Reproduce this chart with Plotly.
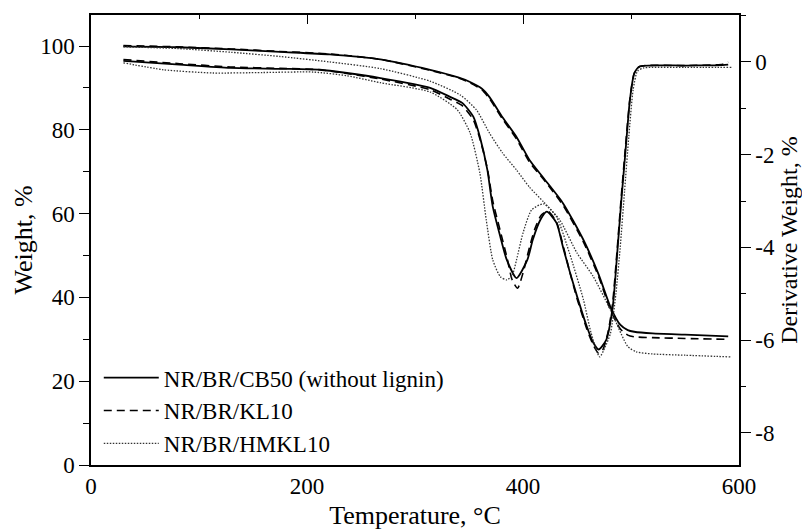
import plotly.graph_objects as go

# ---------------- data ----------------
# TGA curves (left axis, Weight %)
tga_cb50_T = [30, 80, 130, 175, 221, 268, 314, 340, 351, 362, 369, 381, 394, 406, 419, 437, 456, 470, 481, 490, 497, 503, 520, 550, 590]
tga_cb50_W = [99.9, 99.7, 99.2, 98.6, 98.0, 96.8, 94.3, 92.5, 91.4, 89.8, 87.8, 83.0, 78.3, 72.8, 68.5, 62.5, 53.7, 45.5, 37.7, 33.5, 32.2, 31.8, 31.4, 31.1, 30.7]

tga_kl10_T = [30, 80, 130, 175, 221, 268, 314, 340, 351, 362, 369, 381, 394, 406, 419, 437, 456, 470, 481, 490, 497, 503, 520, 550, 590]
tga_kl10_W = [100.1, 99.8, 99.3, 98.7, 98.1, 96.8, 94.2, 92.4, 91.2, 89.5, 87.4, 82.6, 77.8, 72.3, 68.2, 62.0, 53.2, 45.0, 37.0, 32.5, 31.0, 30.6, 30.4, 30.2, 30.0]

tga_hmkl_T = [30, 80, 130, 175, 221, 268, 314, 342, 357, 369, 381, 394, 406, 419, 434, 450, 465, 481, 497, 505, 520, 550, 592]
tga_hmkl_W = [99.8, 99.4, 98.5, 97.5, 96.2, 94.6, 91.6, 88.3, 84.7, 79.2, 74.5, 70.4, 66.3, 62.8, 58.5, 50.6, 45.0, 37.0, 28.3, 27.0, 26.5, 26.2, 25.8]

# DTG curves (right axis, Derivative Weight %)
dtg_cb50_T = [30, 82, 129, 175, 212, 237, 268, 314, 332, 344, 354, 360, 367, 372, 379, 385, 394, 404, 409, 416, 422, 431, 437, 443, 450, 459, 465, 470, 477, 483, 487, 491, 495, 499, 503, 508, 550, 585, 590]
dtg_cb50_D = [0.02, -0.06, -0.13, -0.15, -0.17, -0.24, -0.35, -0.56, -0.75, -0.89, -1.18, -1.61, -2.33, -3.12, -3.77, -4.27, -4.66, -4.27, -3.84, -3.41, -3.23, -3.47, -3.99, -4.50, -5.05, -5.70, -6.05, -6.20, -6.00, -5.30, -4.20, -3.00, -1.90, -0.82, -0.25, -0.10, -0.08, -0.07, -0.06]

dtg_kl10_T = [30, 82, 129, 175, 212, 237, 268, 314, 332, 344, 354, 360, 367, 372, 379, 385, 390, 395, 400, 406, 411, 417, 423, 431, 437, 443, 450, 459, 465, 470, 474, 479, 483, 487, 491, 495, 499, 503, 508, 550, 585, 590]
dtg_kl10_D = [0.05, -0.04, -0.11, -0.14, -0.17, -0.25, -0.37, -0.60, -0.80, -0.95, -1.25, -1.65, -2.30, -3.00, -3.65, -4.20, -4.70, -4.88, -4.55, -4.00, -3.60, -3.30, -3.22, -3.45, -3.95, -4.50, -5.10, -5.75, -6.10, -6.28, -6.20, -5.80, -5.20, -4.10, -2.90, -1.80, -0.80, -0.25, -0.10, -0.08, -0.05, 0.0]

dtg_hmkl_T = [30, 67, 113, 159, 206, 237, 268, 314, 339, 351, 360, 366, 372, 379, 385, 390, 394, 400, 408, 419, 431, 443, 456, 463, 471, 476, 481, 486, 490, 494, 498, 502, 506, 512, 550, 593]
dtg_hmkl_D = [-0.02, -0.17, -0.24, -0.23, -0.22, -0.30, -0.45, -0.65, -1.03, -1.53, -2.39, -3.41, -4.27, -4.63, -4.70, -4.60, -4.27, -3.69, -3.19, -3.06, -3.34, -4.12, -5.13, -5.84, -6.36, -6.15, -5.85, -5.00, -4.00, -2.80, -1.60, -0.60, -0.20, -0.13, -0.12, -0.12]

names = ["NR/BR/CB50 (without lignin)", "NR/BR/KL10", "NR/BR/HMKL10"]

x_ticks = [0, 200, 400, 600]
y_ticks = [0, 20, 40, 60, 80, 100]
y2_ticks = [-8, -6, -4, -2, 0]
y2_ticktext = ["-8", "-6", "-4", "-2", "0"]

FONT = "Liberation Serif"

styles = [
    dict(color="black", width=1.8, dash="solid"),
    dict(color="black", width=1.6, dash="8px,5px"),
    dict(color="#333333", width=1.3, dash="1.5px,1.5px"),
]

fig = go.Figure()

tga = [(tga_cb50_T, tga_cb50_W), (tga_kl10_T, tga_kl10_W), (tga_hmkl_T, tga_hmkl_W)]
dtg = [(dtg_cb50_T, dtg_cb50_D), (dtg_kl10_T, dtg_kl10_D), (dtg_hmkl_T, dtg_hmkl_D)]

for i, (t, w) in enumerate(tga):
    fig.add_trace(go.Scatter(x=t, y=w, mode="lines", name=names[i],
                             line=dict(**styles[i], shape="spline", smoothing=0.6),
                             xaxis="x", yaxis="y", showlegend=True, hoverinfo="skip"))
for i, (t, d) in enumerate(dtg):
    fig.add_trace(go.Scatter(x=t, y=d, mode="lines", name=names[i],
                             line=dict(**styles[i], shape="spline", smoothing=0.6),
                             xaxis="x2", yaxis="y2", showlegend=False, hoverinfo="skip"))

axis_line = dict(showline=True, linecolor="black", linewidth=1.5, showgrid=False,
                 zeroline=False, automargin=False)

# the page body has an 8px margin, so the figure is 8px smaller and margins compensate
fig.update_layout(
    template="none",
    width=802, height=522,
    margin=dict(l=83, r=71, t=7, b=65, pad=0),
    paper_bgcolor="white", plot_bgcolor="white",
    font=dict(family=FONT, size=23, color="black"),
    showlegend=True,
    legend=dict(x=0.012, y=0.242, xanchor="left", yanchor="top",
                bgcolor="rgba(0,0,0,0)", borderwidth=0, font=dict(family=FONT, size=23),
                itemwidth=55, tracegroupgap=0, traceorder="normal"),
    xaxis=dict(range=[0, 600], tickvals=x_ticks, ticks="", mirror=True,
               tickfont=dict(size=23),
               title=dict(text="Temperature, °C", font=dict(size=26), standoff=18),
               **axis_line),
    xaxis2=dict(range=[0, 600], overlaying="x", side="top", anchor="y2", matches="x",
                tickvals=x_ticks, ticks="inside", ticklen=9, tickwidth=1.3, tickcolor="black",
                minor=dict(ticks="inside", ticklen=4, dtick=100, tick0=0, tickcolor="black", tickwidth=1.3),
                showticklabels=False, **axis_line),
    yaxis=dict(range=[0, 107.4], tickvals=y_ticks, ticks="outside", ticklen=10, tickwidth=1.3,
               tickcolor="black",
               minor=dict(ticks="outside", ticklen=6, dtick=10, tick0=0, tickcolor="black", tickwidth=1.3),
               tickfont=dict(size=23),
               title=dict(text="Weight, %", font=dict(size=26), standoff=0),
               **axis_line),
    yaxis2=dict(range=[-8.69, 1.01], overlaying="y", side="right", anchor="x2",
                tickvals=y2_ticks, ticktext=y2_ticktext, ticks="outside", ticklen=10, tickwidth=1.3,
                tickcolor="black",
                minor=dict(ticks="outside", ticklen=5, dtick=1, tick0=0, tickcolor="black", tickwidth=1.3),
                tickfont=dict(size=23),
                title=dict(text="Derivative Weight, %", font=dict(size=24), standoff=6),
                **axis_line),
)

fig.write_html("out.html")
